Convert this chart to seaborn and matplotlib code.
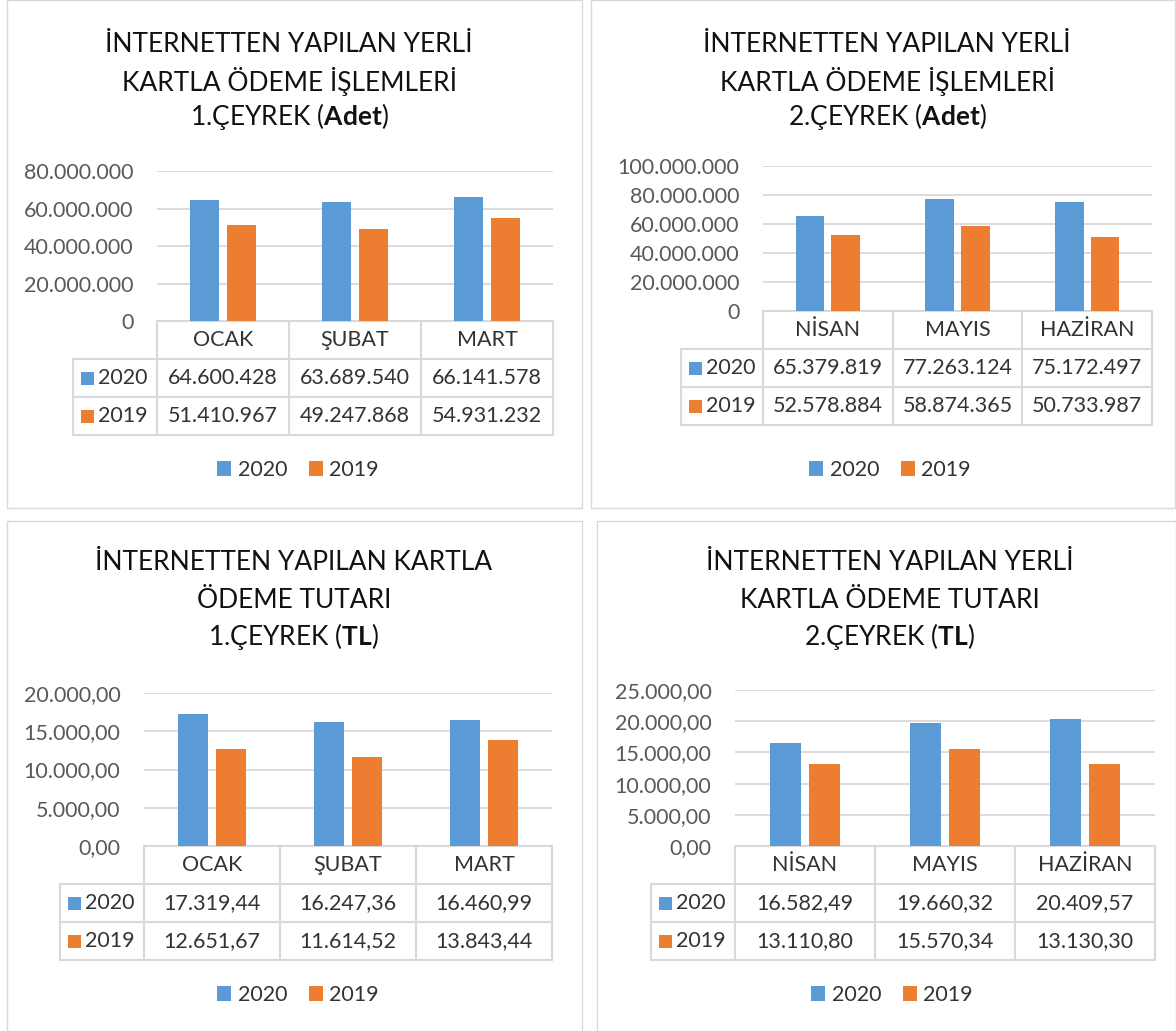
import matplotlib
matplotlib.use("Agg")
import matplotlib.pyplot as plt
import matplotlib.patches as mpatches
from matplotlib.ticker import FuncFormatter, MultipleLocator
import seaborn as sns
import pandas as pd

# data
years = ["2020", "2019"]
months_q1 = ["OCAK", "ŞUBAT", "MART"]
months_q2 = ["NİSAN", "MAYIS", "HAZİRAN"]

adet_q1_2020 = [64600428, 63689540, 66141578]
adet_q1_2019 = [51410967, 49247868, 54931232]
adet_q2_2020 = [65379819, 77263124, 75172497]
adet_q2_2019 = [52578884, 58874365, 50733987]

tl_q1_2020 = [17319.44, 16247.36, 16460.99]
tl_q1_2019 = [12651.67, 11614.52, 13843.44]
tl_q2_2020 = [16582.49, 19660.32, 20409.57]
tl_q2_2019 = [13110.80, 15570.34, 13130.30]

titles = [
    ["İNTERNETTEN YAPILAN YERLİ", "KARTLA ÖDEME İŞLEMLERİ", r"1.ÇEYREK ($\mathbf{Adet}$)"],
    ["İNTERNETTEN YAPILAN YERLİ", "KARTLA ÖDEME İŞLEMLERİ", r"2.ÇEYREK ($\mathbf{Adet}$)"],
    ["İNTERNETTEN YAPILAN KARTLA", "ÖDEME TUTARI", r"1.ÇEYREK ($\mathbf{TL}$)"],
    ["İNTERNETTEN YAPILAN YERLİ", "KARTLA ÖDEME TUTARI", r"2.ÇEYREK ($\mathbf{TL}$)"],
]

BLUE = "#5B9BD5"
ORANGE = "#ED7D31"
GRID = "#D9D9D9"

W, H = 1176, 1031

# layout in pixels: panel box, plot area, label column left, title x / y's, legend pos, y max, y step, kind
panels = [
    dict(box=(7, 0, 582, 508), plot=(157, 171, 553, 321), lab=73, tx=289, ty=(45, 81, 117),
         leg=(298, 470), ymax=80e6, step=20e6, kind="adet",
         months=months_q1, v20=adet_q1_2020, v19=adet_q1_2019),
    dict(box=(591, 0, 1175, 508), plot=(763, 166, 1152, 311), lab=681, tx=887, ty=(45, 81, 117),
         leg=(890, 470), ymax=100e6, step=20e6, kind="adet",
         months=months_q2, v20=adet_q2_2020, v19=adet_q2_2019),
    dict(box=(7, 521, 582, 1031), plot=(144, 693, 552, 846), lab=60, tx=294, ty=(563, 600, 637),
         leg=(298, 995), ymax=20000, step=5000, kind="tl",
         months=months_q1, v20=tl_q1_2020, v19=tl_q1_2019),
    dict(box=(597, 521, 1176, 1031), plot=(735, 690, 1155, 846), lab=651, tx=890, ty=(563, 600, 637),
         leg=(892, 995), ymax=25000, step=5000, kind="tl",
         months=months_q2, v20=tl_q2_2020, v19=tl_q2_2019),
]


def tr_fmt(v, kind):
    if kind == "adet":
        return f"{int(round(v)):,}".replace(",", ".")
    s = f"{v:,.2f}"
    return s.replace(",", "X").replace(".", ",").replace("X", ".")


sns.set_theme(style="white")
plt.rcParams["font.family"] = ["Lato", "DejaVu Sans"]
plt.rcParams["mathtext.fontset"] = "custom"
plt.rcParams["mathtext.rm"] = "Lato"
plt.rcParams["mathtext.bf"] = "Lato:bold"

fig = plt.figure(figsize=(W / 100, H / 100), dpi=100)
bg = fig.add_axes([0, 0, 1, 1])
bg.set_xlim(0, W)
bg.set_ylim(H, 0)
bg.axis("off")

TXT = "#333333"
ROW = 38
FS = 15.5

for i, p in enumerate(panels):
    x0, y0, x1, y1 = p["plot"]
    bx0, by0, bx1, by1 = p["box"]
    bg.add_patch(mpatches.Rectangle((bx0, by0), bx1 - bx0, by1 - by0, fill=False,
                                    edgecolor=GRID, lw=1.0))

    # title
    for line, ty in zip(titles[i], p["ty"]):
        bg.text(p["tx"], ty, line, ha="center", va="center", fontsize=19, color="#111111")

    ax = fig.add_axes([x0 / W, 1 - y1 / H, (x1 - x0) / W, (y1 - y0) / H])
    df = pd.DataFrame({
        "month": p["months"] * 2,
        "year": [years[0]] * 3 + [years[1]] * 3,
        "value": list(p["v20"]) + list(p["v19"]),
    })
    sns.barplot(data=df, x="month", y="value", hue="year", hue_order=years,
                palette=[BLUE, ORANGE], saturation=1, width=0.55, gap=0.2,
                linewidth=0, ax=ax)
    handles, labels = ax.get_legend_handles_labels()
    ax.get_legend().remove()
    ax.set_xlim(-0.5, 2.5)
    ax.set_ylim(0, p["ymax"])
    ax.yaxis.set_major_locator(MultipleLocator(p["step"]))
    kind = p["kind"]
    ax.yaxis.set_major_formatter(FuncFormatter(
        lambda v, pos, k=kind: tr_fmt(v, k) if k == "tl" else ("0" if v == 0 else tr_fmt(v, k))))
    ax.set_xticks([])
    ax.set_xlabel("")
    ax.set_ylabel("")
    ax.tick_params(axis="y", length=0, pad=17, labelsize=FS, labelcolor="#595959")
    ax.yaxis.grid(True, color=GRID, lw=1.3)
    ax.set_axisbelow(True)
    for s in ax.spines.values():
        s.set_visible(False)
    ax.patch.set_alpha(0)

    # data table
    cw = (x1 - x0) / 3
    colx = [x0 + k * cw for k in range(4)]
    lab = p["lab"]
    tl = dict(color=GRID, lw=1.5)
    bg.plot([x0, x1], [y1, y1], **tl)
    for r in range(1, 4):
        bg.plot([lab, x1], [y1 + r * ROW, y1 + r * ROW], **tl)
    for cx in colx:
        bg.plot([cx, cx], [y1, y1 + 3 * ROW], **tl)
    bg.plot([lab, lab], [y1 + ROW, y1 + 3 * ROW], **tl)
    for k, m in enumerate(p["months"]):
        bg.text(colx[k] + cw / 2, y1 + ROW / 2, m, ha="center", va="center",
                fontsize=FS, color=TXT)
    for r, (yr, vals, col) in enumerate(zip(years, [p["v20"], p["v19"]], [BLUE, ORANGE])):
        yc = y1 + ROW * (r + 1.5)
        bg.add_patch(mpatches.Rectangle((lab + 8, yc - 6.5), 13, 13, color=col, lw=0))
        bg.text(lab + 25, yc, yr, ha="left", va="center", fontsize=FS, color=TXT)
        for k, v in enumerate(vals):
            bg.text(colx[k] + cw / 2, yc, tr_fmt(v, kind), ha="center", va="center",
                    fontsize=FS, color=TXT)

    lx, ly = p["leg"]
    ax.legend(handles, labels, ncol=2, frameon=False, loc="center",
              bbox_to_anchor=(lx / W, 1 - ly / H), bbox_transform=fig.transFigure,
              fontsize=FS, handlelength=0.65, handleheight=0.65, handletextpad=0.3,
              columnspacing=1.0, labelcolor=TXT)

fig.savefig("out.png", dpi=100)
